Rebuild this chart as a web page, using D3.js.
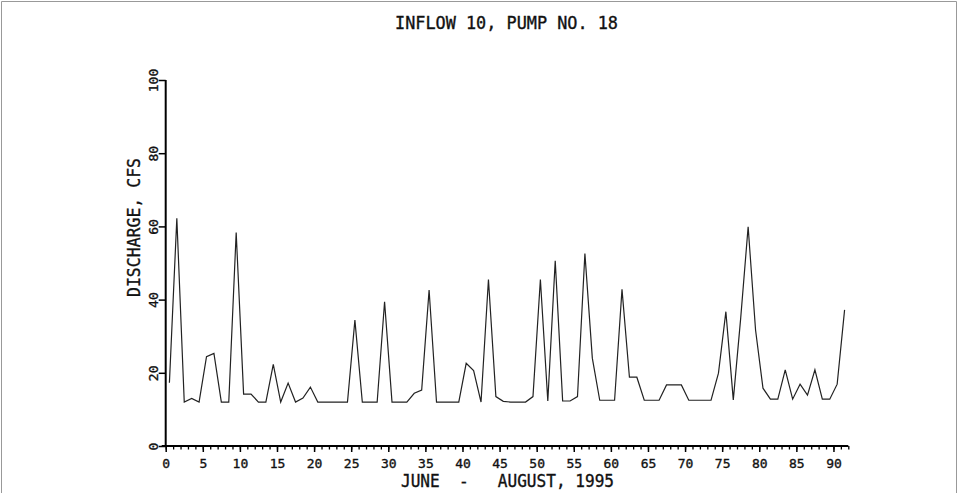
<!DOCTYPE html>
<html>
<head>
<meta charset="utf-8">
<script src="https://cdn.jsdelivr.net/npm/d3@7"></script>
<style>
  body { margin: 0; background: #fff; }
  text { font-family: "DejaVu Sans Mono", monospace; fill: #111; stroke: #111; stroke-width: 0.35px; }
</style>
</head>
<body>
<div id="chart"></div>
<script>
// daily discharge, June 1 - August 31, 1995
const days = d3.range(1, 93);
const discharge = [
  17.3, 62.2, 12, 13, 12, 24.4, 25.3, 12, 12, 58.3,
  14.2, 14.2, 12, 12, 22.3, 12, 17.2, 12, 13.1, 16.1,
  12, 12, 12, 12, 12, 34.4, 12, 12, 12, 39.4,
  12, 12, 12, 14.4, 15.3, 42.6, 12, 12, 12, 12,
  22.6, 20.6, 12, 45.5, 13.5, 12.2, 12, 12, 12, 13.5,
  45.5, 12.3, 50.6, 12.3, 12.3, 13.5, 52.6, 24, 12.5, 12.5,
  12.5, 42.8, 18.8, 18.8, 12.5, 12.5, 12.5, 16.7, 16.7, 16.7,
  12.5, 12.5, 12.5, 12.5, 19.9, 36.7, 12.6, 35, 59.9, 31.7,
  15.8, 12.8, 12.8, 20.8, 12.8, 16.9, 13.9, 20.8, 12.8, 12.8,
  16.9, 37.2
];
const xMajorTicks = [0, 5, 10, 15, 20, 25, 30, 35, 40, 45, 50, 55, 60, 65, 70, 75, 80, 85, 90];
const yTicks = [0, 20, 40, 60, 80, 100];

const width = 959, height = 493;
const margin = { left: 165.7, right: 110.7, top: 80, bottom: 47 };

const svg = d3
  .select("#chart")
  .append("svg")
  .attr("width", width)
  .attr("height", height);

// page frame
svg.append("path")
  .attr("d", `M1.5,${height} V1.5 H${width - 2.5} V${height}`)
  .attr("fill", "none")
  .attr("stroke", "#999")
  .attr("stroke-width", 1);

const x = d3.scaleLinear().domain([0, 92]).range([margin.left, width - margin.right]);
const y = d3.scaleLinear().domain([0, 100]).range([height - margin.bottom, margin.top]);

// minor ticks every day
svg.append("g")
  .attr("transform", `translate(0,${y(0)})`)
  .call(d3.axisBottom(x).tickValues(d3.range(0, 93)).tickSize(3.5).tickSizeOuter(0).tickFormat(""))
  .call((g) => g.select(".domain").attr("stroke-width", 2).attr("d", `M${x(0) - 4},0H${x(92)}`))
  .call((g) => g.selectAll(".tick line").attr("stroke-width", 1.3));

// major ticks + labels
svg.append("g")
  .attr("transform", `translate(0,${y(0)})`)
  .call(d3.axisBottom(x).tickValues(xMajorTicks).tickSize(6).tickSizeOuter(0).tickPadding(4))
  .call((g) => g.select(".domain").remove())
  .call((g) => g.selectAll(".tick line").attr("stroke-width", 1.5))
  .call((g) => g.selectAll(".tick text").style("font-size", "13px").attr("dy", "0.9em"));

// y axis
svg.append("g")
  .attr("transform", `translate(${x(0)},0)`)
  .call(d3.axisLeft(y).tickValues(yTicks).tickSize(7).tickSizeOuter(0))
  .call((g) => g.select(".domain").attr("stroke-width", 2).attr("d", `M0,${y(0)}V${y(100)}`))
  .call((g) => g.selectAll(".tick line").attr("stroke-width", 1.5))
  .call((g) =>
    g.selectAll(".tick text")
      .style("font-size", "13px")
      .attr("x", null)
      .attr("dy", null)
      .attr("text-anchor", "middle")
      .attr("transform", "translate(-8,0) rotate(-90)")
  );

// discharge line
const line = d3.line()
  .x((d, i) => x(days[i] - 0.5))
  .y((d) => y(d));

svg.append("path")
  .datum(discharge)
  .attr("d", line)
  .attr("fill", "none")
  .attr("stroke", "#222")
  .attr("stroke-width", 1.2)
  .attr("stroke-linejoin", "miter");

// titles
svg.append("text")
  .attr("x", 506.5)
  .attr("y", 29)
  .attr("text-anchor", "middle")
  .attr("textLength", 223)
  .attr("lengthAdjust", "spacingAndGlyphs")
  .style("font-size", "17px")
  .text("INFLOW 10, PUMP NO. 18");

svg.append("text")
  .attr("x", 507.5)
  .attr("y", 486.5)
  .attr("text-anchor", "middle")
  .attr("textLength", 213)
  .attr("lengthAdjust", "spacingAndGlyphs")
  .style("font-size", "17px")
  .attr("xml:space", "preserve")
  .text("JUNE  -   AUGUST, 1995");

svg.append("text")
  .attr("transform", "translate(140,227.5) rotate(-90)")
  .attr("text-anchor", "middle")
  .attr("textLength", 139)
  .attr("lengthAdjust", "spacingAndGlyphs")
  .style("font-size", "17px")
  .text("DISCHARGE, CFS");
</script>
</body>
</html>
